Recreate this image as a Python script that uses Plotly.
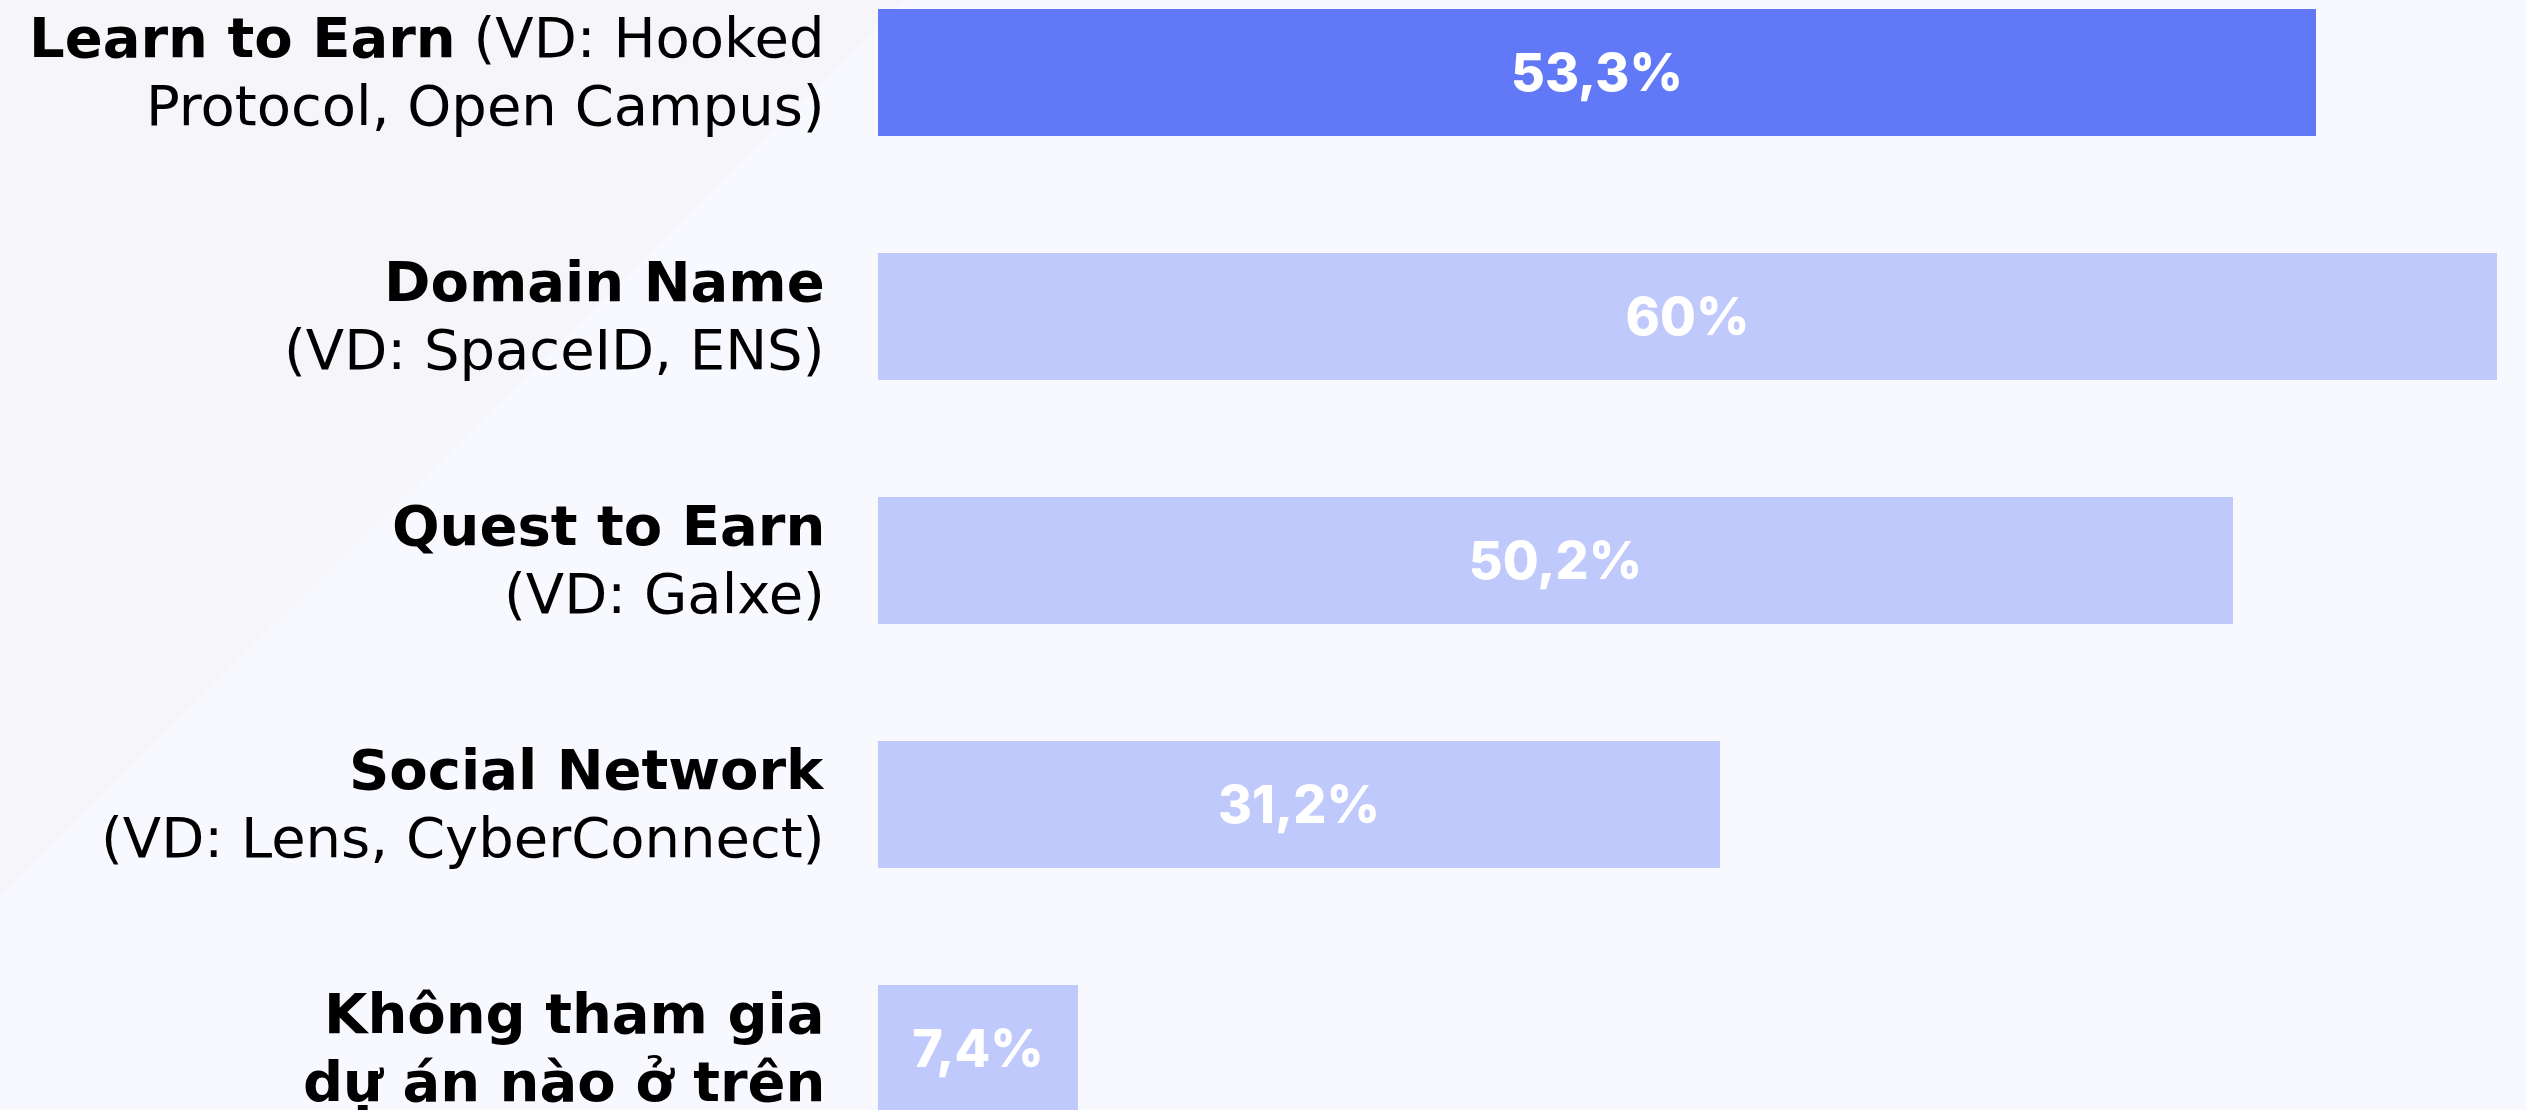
import plotly.graph_objects as go

# Survey: share of respondents who joined each kind of SocialFi project
categories = ["Learn to Earn", "Domain Name", "Quest to Earn", "Social Network", "Không tham gia"]
label_line1 = [
    "<b>Learn to Earn</b> (VD: Hooked",
    "<b>Domain Name</b>",
    "<b>Quest to Earn</b>",
    "<b>Social Network</b>",
    "<b>Không tham gia</b>",
]
label_line2 = [
    "Protocol, Open Campus)",
    "(VD: SpaceID, ENS)",
    "(VD: Galxe)",
    "(VD: Lens, CyberConnect)",
    "<b>dự án nào ở trên</b>",
]
values = [53.3, 60, 50.2, 31.2, 7.4]
highlight = "Learn to Earn"

W, H = 2526, 1110
LEFT = 878          # start of the bar area in px
PITCH = 244         # px between bar centres
FIRST_CENTER = 72.5 # px of first bar centre from top
BAR_PX = 127
LABEL_RIGHT = 827   # right edge of the category labels in px

LABEL_FONT = "DejaVu Sans"
VALUE_FONT = "Inter"
BAR_COLOR = "#BFC9FB"
HI_COLOR = "#6279F7"
BG = "#F8F9FE"

def fmt(v):
    return f"{v:g}".replace(".", ",") + "%"

colors = [HI_COLOR if c == highlight else BAR_COLOR for c in categories]
ypos = list(range(len(categories)))

fig = go.Figure(
    go.Bar(
        x=values,
        y=ypos,
        orientation="h",
        width=BAR_PX / PITCH,
        marker=dict(color=colors, line=dict(width=0)),
        text=[fmt(v) for v in values],
        textposition="inside",
        insidetextanchor="middle",
        textangle=0,
        textfont=dict(family=VALUE_FONT, size=52, color="white", weight=800),
        hoverinfo="skip",
    )
)

# axis ranges chosen so the longest bar ends near the right edge
plot_w = W - LEFT
x_max = max(values) * plot_w / (2497 - LEFT)
y_top = -FIRST_CENTER / PITCH
y_bottom = (H - FIRST_CENTER) / PITCH

annotations = []
for i in ypos:
    for txt, shift in ((label_line1[i], 35), (label_line2[i], -33)):
        annotations.append(dict(
            text=txt, xref="paper", x=0, xshift=-(LEFT - LABEL_RIGHT), xanchor="right",
            yref="y", y=i, yshift=shift, yanchor="middle",
            showarrow=False, align="right",
            font=dict(family=LABEL_FONT, size=56, color="#000000"),
        ))

# faint diagonal panel in the top-left background
def px_x(p):
    return (p - LEFT) / plot_w

def px_y(p):
    return 1 - p / H

shapes = [dict(
    type="path", xref="paper", yref="paper", layer="below",
    path=f"M {px_x(0)} {px_y(0)} L {px_x(905)} {px_y(0)} L {px_x(0)} {px_y(897)} Z",
    fillcolor="#F6F5FA", line=dict(width=0),
)]

fig.update_layout(
    width=W, height=H,
    margin=dict(l=LEFT, r=0, t=0, b=0),
    paper_bgcolor=BG, plot_bgcolor="rgba(0,0,0,0)",
    showlegend=False,
    bargap=0,
    xaxis=dict(range=[0, x_max], visible=False, fixedrange=True),
    yaxis=dict(range=[y_bottom, y_top], visible=False, fixedrange=True),
    annotations=annotations,
    shapes=shapes,
    uniformtext=dict(minsize=52, mode="show"),
)

fig.write_html("out.html", config={"displayModeBar": False})
